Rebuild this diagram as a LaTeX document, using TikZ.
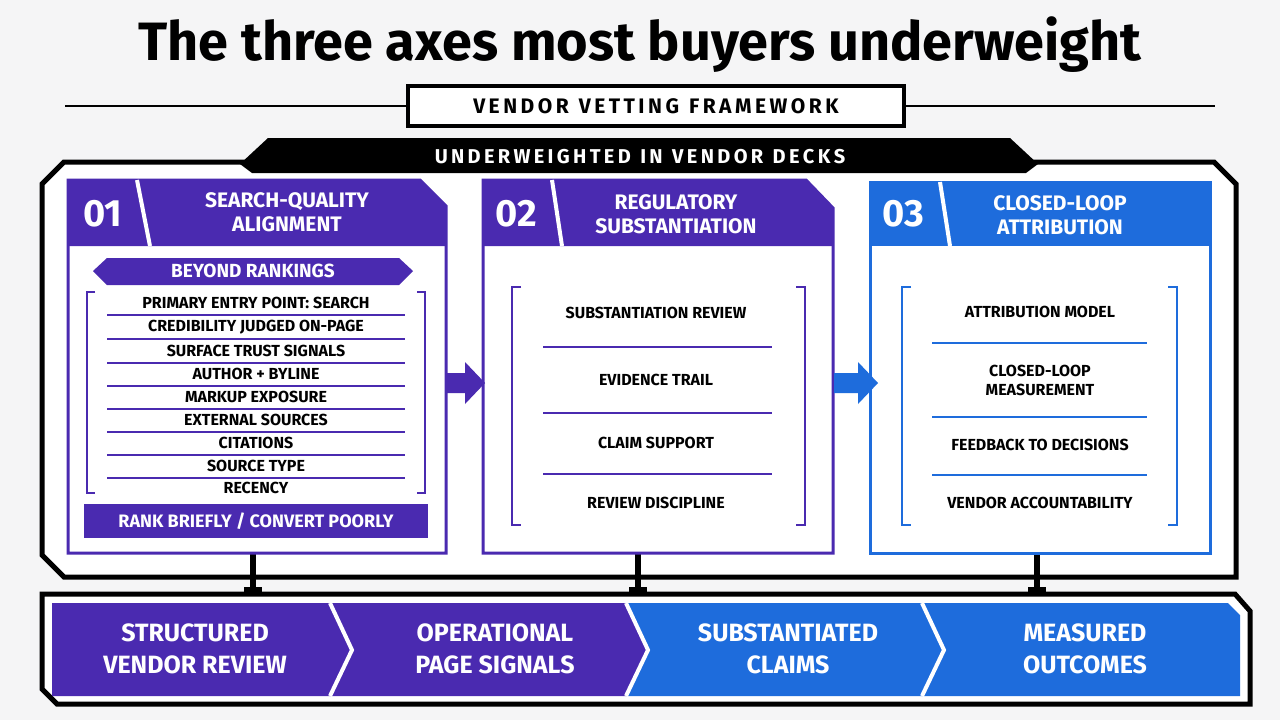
\documentclass[tikz,border=0pt]{standalone}
\usepackage{fontspec}
\setmainfont{Fira Sans}
\definecolor{pur}{HTML}{4A2AB0}
\definecolor{blu}{HTML}{1E6CDC}
\definecolor{bg}{HTML}{F5F5F6}
\begin{document}
\begin{tikzpicture}[x=0.5pt,y=-0.5pt,
  frame/.style={draw=black,line width=2.5pt,fill=white},
  hdr/.style={text=white,font=\bfseries\fontsize{10.5}{12}\selectfont,align=center},
  num/.style={text=white,font=\bfseries\fontsize{19}{20}\selectfont},
  item/.style={font=\bfseries\fontsize{8}{9.5}\selectfont,align=center},
  sep/.style={line width=0.7pt},
  brk/.style={line width=1.1pt},
  chev/.style={draw=white,line width=2pt},
  ctxt/.style={text=white,font=\bfseries\fontsize{12.5}{16}\selectfont,align=center},
  conn/.style={line width=3pt}]
\useasboundingbox[fill=bg] (0,0) rectangle (1280,720);
% title
\node[font=\bfseries\fontsize{27}{30}\selectfont] (title) at (640,45) {The three axes most buyers underweight};
\node[draw,line width=1.6pt,fill=white,minimum width=248pt,minimum height=20pt,font=\bfseries\fontsize{10.5}{12}\selectfont] (sub) at (656,106) {V\,E\,N\,D\,O\,R\ \ V\,E\,T\,T\,I\,N\,G\ \ F\,R\,A\,M\,E\,W\,O\,R\,K};
\coordinate (l1) at (65,106); \coordinate (r1) at (1215,106);
\draw[line width=1pt] (l1) -- (sub.west) (sub.east) -- (r1);
% outer frame
\draw[frame] (42,184) -- (64,162) -- (1214,162) -- (1236,184) -- (1236,577) -- (64,577) -- (42,555) -- cycle;
\fill (240,164) -- (268,138) -- (1010,138) -- (1038,164) -- (1026,173) -- (252,173) -- cycle;
\node[text=white,font=\bfseries\fontsize{10}{12}\selectfont] (tab) at (640,157) {U\,N\,D\,E\,R\,W\,E\,I\,G\,H\,T\,E\,D\ \ I\,N\ \ V\,E\,N\,D\,O\,R\ \ D\,E\,C\,K\,S};
% connectors to bottom
\foreach \x/\n in {253/a,638/b,1037/c}{
  \coordinate (t\n) at (\x,553); \coordinate (f\n) at (\x,594);
  \draw[conn] (t\n) -- (f\n);
  \fill (\x-9,587) rectangle (\x+9,595);}
% panel 1
\draw[pur,line width=1.5pt,fill=white] (68,180) -- (420,180) -- (446,206) -- (446,553) -- (68,553) -- cycle;
\fill[pur] (68,180) -- (420,180) -- (446,206) -- (446,246) -- (68,246) -- cycle;
\draw[white,line width=2pt] (137,180) -- (150,246);
\node[num] (n1) at (103,214) {01};
\node[hdr] (h1) at (287,212) {SEARCH-QUALITY\\ALIGNMENT};
\fill[pur] (93,271) -- (107,258) -- (399,258) -- (413,271) -- (399,285) -- (107,285) -- cycle;
\node[text=white,font=\bfseries\fontsize{9.5}{11}\selectfont] (b1) at (253,271) {BEYOND RANKINGS};
\draw[pur,brk] (95,292) -- (87,292) -- (87,493) -- (95,493);
\draw[pur,brk] (417,292) -- (425,292) -- (425,493) -- (417,493);
\foreach \y/\t [count=\i] in {303/PRIMARY ENTRY POINT: SEARCH,327/CREDIBILITY JUDGED ON-PAGE,351/SURFACE TRUST SIGNALS,374/AUTHOR + BYLINE,397/MARKUP EXPOSURE,420/EXTERNAL SOURCES,443/CITATIONS,466/SOURCE TYPE,488/RECENCY}{
  \node[item] (i1\i) at (256,\y) {\t};}
\foreach \y in {315,339,363,386,409,432,455,478}{\draw[pur,sep] (107,\y) -- (405,\y);}
\fill[pur] (84,504) rectangle (428,538);
\node[text=white,font=\bfseries\fontsize{9}{11}\selectfont] (k1) at (256,521) {RANK BRIEFLY / CONVERT POORLY};
% panel 2
\draw[pur,line width=1.5pt,fill=white] (483,180) -- (806,180) -- (833,208) -- (833,553) -- (483,553) -- cycle;
\fill[pur] (483,180) -- (806,180) -- (833,208) -- (833,246) -- (483,246) -- cycle;
\draw[white,line width=2pt] (552,180) -- (562,246);
\node[num] (n2) at (516,214) {02};
\node[hdr] (h2) at (676,214) {REGULATORY\\SUBSTANTIATION};
\draw[pur,brk] (521,287) -- (512,287) -- (512,525) -- (521,525);
\draw[pur,brk] (796,287) -- (805,287) -- (805,525) -- (796,525);
\foreach \y/\t [count=\i] in {313/SUBSTANTIATION REVIEW,380/EVIDENCE TRAIL,443/CLAIM SUPPORT,503/REVIEW DISCIPLINE}{\node[item] (i2\i) at (656,\y) {\t};}
\foreach \y in {347,413,474}{\draw[pur,sep] (543,\y) -- (772,\y);}
% panel 3
\draw[blu,line width=1.5pt,fill=white] (870,182) rectangle (1210,553);
\fill[blu] (870,182) rectangle (1210,246);
\draw[white,line width=2pt] (940,182) -- (950,246);
\node[num] (n3) at (903,214) {03};
\node[hdr] (h3) at (1060,215) {CLOSED-LOOP\\ATTRIBUTION};
\draw[blu,brk] (911,287) -- (902,287) -- (902,525) -- (911,525);
\draw[blu,brk] (1168,287) -- (1177,287) -- (1177,525) -- (1168,525);
\foreach \y/\t [count=\i] in {312/ATTRIBUTION MODEL,380/CLOSED-LOOP\\MEASUREMENT,445/FEEDBACK TO DECISIONS,503/VENDOR ACCOUNTABILITY}{\node[item] (i3\i) at (1040,\y) {\t};}
\foreach \y in {343,417,475}{\draw[blu,sep] (932,\y) -- (1147,\y);}
% arrows between panels
\fill[pur] (447,373) -- (465,373) -- (465,362) -- (485,383) -- (465,404) -- (465,393) -- (447,393) -- cycle;
\fill[blu] (834,373) -- (858,373) -- (858,362) -- (878,383) -- (858,404) -- (858,393) -- (834,393) -- cycle;
% bottom band
\draw[frame] (42,594) -- (1235,594) -- (1250,611) -- (1250,704) -- (57,704) -- (42,689) -- cycle;
\fill[pur] (52,603) -- (330,603) -- (352,650) -- (330,696) -- (52,696) -- cycle;
\fill[pur] (330,603) -- (626,603) -- (648,650) -- (626,696) -- (330,696) -- (352,650) -- cycle;
\fill[blu] (626,603) -- (922,603) -- (944,650) -- (922,696) -- (626,696) -- (648,650) -- cycle;
\fill[blu] (922,603) -- (1228,603) -- (1240,615) -- (1240,696) -- (922,696) -- (944,650) -- cycle;
\draw[chev] (330,603) -- (352,650) -- (330,696);
\draw[chev] (626,603) -- (648,650) -- (626,696);
\draw[chev] (922,603) -- (944,650) -- (922,696);
\node[ctxt] (c1) at (195,649) {STRUCTURED\\VENDOR REVIEW};
\node[ctxt] (c2) at (495,649) {OPERATIONAL\\PAGE SIGNALS};
\node[ctxt] (c3) at (788,649) {SUBSTANTIATED\\CLAIMS};
\node[ctxt] (c4) at (1085,649) {MEASURED\\OUTCOMES};
\end{tikzpicture}
\end{document}
